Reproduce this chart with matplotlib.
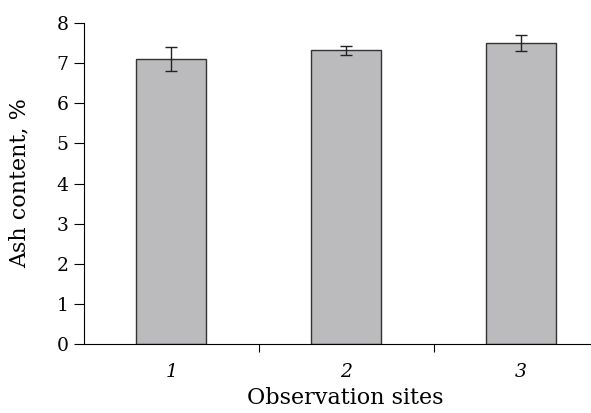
import numpy as np
import matplotlib.pyplot as plt

sites = ["1", "2", "3"]
ash = [7.1, 7.32, 7.5]
err = [0.3, 0.12, 0.2]

plt.rcParams['font.family'] = ['DejaVu Serif']

fig = plt.figure(figsize=(5.91, 4.13), dpi=100)
ax = fig.add_axes([0.142, 0.167, 0.87, 0.777])

x = np.arange(1, len(sites) + 1)
ax.bar(x, ash, width=0.4, color='#bbbbbd', edgecolor='#333333', linewidth=1.0,
       yerr=err, capsize=4, error_kw=dict(ecolor='#222222', elinewidth=1.0, capthick=1.0))

ax.set_xlim(0.5, 3.44)
ax.set_ylim(0, 8)
ax.set_yticks(range(0, 9))
ax.tick_params(axis='y', labelsize=13.5, length=7, width=0.8, direction='out', pad=4)

# ticks sit between the bars, labels under the bars
ax.set_xticks([1.5, 2.5])
ax.set_xticklabels([])
ax.tick_params(axis='x', length=6, width=0.8, direction='out')
for xi, s in zip(x, sites):
    ax.text(xi, -0.48, s, ha='center', va='top', fontsize=13.5, style='italic')

ax.spines['top'].set_visible(False)
ax.spines['right'].set_visible(False)
ax.spines['left'].set_linewidth(0.8)
ax.spines['bottom'].set_linewidth(0.8)

fig.text(20 / 591, 1 - 183 / 413, "Ash content, %", rotation=90,
         ha='center', va='center', fontsize=16)
fig.text(345 / 591, 1 - 398 / 413, "Observation sites",
         ha='center', va='center', fontsize=16)

fig.savefig("out.png", dpi=100)
